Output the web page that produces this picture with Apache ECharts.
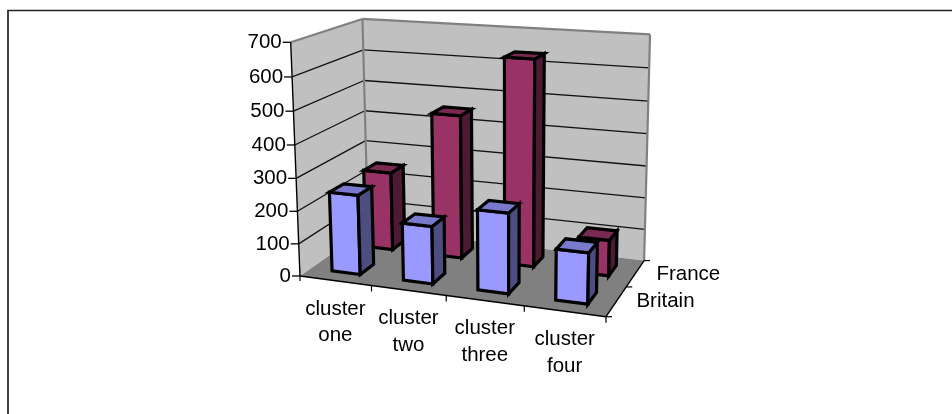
<!DOCTYPE html>
<html><head><meta charset="utf-8">
<style>html,body{margin:0;padding:0;background:#fff}#c{width:952px;height:414px}</style>
<script src="https://cdn.jsdelivr.net/npm/echarts@6/dist/echarts.min.js"></script>
</head><body><div id="c"></div>
<script>
const categories = ['cluster\none','cluster\ntwo','cluster\nthree','cluster\nfour'];
const seriesNames = ['Britain','France'];
const britain = [245,175,240,150];
const france = [250,450,637,110];
const valueTicks = [0,100,200,300,400,500,600,700];
const VMAX = 700;

// projective frame of the 3D box: origin, end of x, end of y(height), end of z(depth) + weights
const O=[300,276], X=[606,316.7], Y=[290.7,42.3], Z=[368,228.5];
const wx=.915, wy=.957, wz=1.12;
// hidden cartesian grid used as the unit scale
const G={left:100,top:50,width:700,height:300};
const chart = echarts.init(document.getElementById('c'),null,{renderer:'canvas'});

function unit(api,cat,val){ const p=api.coord([cat,val]); return [(p[0]-G.left)/G.width,(G.top+G.height-p[1])/G.height]; }
function proj(x,y,z){
  const d=1+x*(wx-1)+y*(wy-1)+z*(wz-1);
  return [0,1].map(i=>(O[i]+x*(wx*X[i]-O[i])+y*(wy*Y[i]-O[i])+z*(wz*Z[i]-O[i]))/d);
}
const poly=(pts,fill,stroke,lw)=>({type:'polygon',shape:{points:pts},style:{fill,stroke:stroke||'none',lineWidth:lw||0,lineJoin:'miter'}});
const line=(a,b,stroke,lw)=>({type:'line',shape:{x1:a[0],y1:a[1],x2:b[0],y2:b[1]},style:{stroke,lineWidth:lw}});
const txt=(p,t,align,vAlign,fs,lh)=>({type:'text',x:p[0],y:p[1],style:{text:t,font:(fs||20.5)+'px "Liberation Sans",Arial,sans-serif',fill:'#000',align,verticalAlign:vAlign,lineHeight:lh||26.5}});

const BW=.1, BD=.2;
function barRender(rowIdx,colors){
  return function(params,api){
    const c=api.value(0), v=api.value(1);
    const cx=unit(api,c,0)[0];
    const x0=cx-BW/2,x1=cx+BW/2;
    const zc=(rowIdx+.5)/seriesNames.length, z0=zc-BD/2,z1=zc+BD/2;
    const h=unit(api,c,v)[1];
    const lw=3.2,k='#000';
    return {type:'group',children:[
      poly([proj(x0,h,z0),proj(x1,h,z0),proj(x1,0,z0),proj(x0,0,z0)],colors[0],k,lw),
      poly([proj(x1,h,z0),proj(x1,h,z1),proj(x1,0,z1),proj(x1,0,z0)],colors[2],k,lw),
      poly([proj(x0,h,z0),proj(x0,h,z1),proj(x1,h,z1),proj(x1,h,z0)],colors[1],k,lw)
    ]};
  };
}
function wallRender(params,api){
  const ch=[];
  const m=unit(api,0,VMAX)[1];
  ch.push(poly([proj(0,0,0),proj(0,m,0),proj(0,m,1),proj(0,0,1)],'#c0c0c0'));
  ch.push(poly([proj(0,0,1),proj(0,m,1),proj(1,m,1),proj(1,0,1)],'#c0c0c0'));
  ch.push(poly([proj(0,0,0),proj(1,0,0),proj(1,0,1),proj(0,0,1)],'#808080'));
  valueTicks.forEach(v=>{
    const y=unit(api,0,v)[1];
    if(v>0&&v<VMAX){
      ch.push(line(proj(0,y,0),proj(0,y,1),'#111',1.3));
      ch.push(line(proj(0,y,1),proj(1,y,1),'#111',1.3));
    }
    const a=proj(0,y,0);
    ch.push(line([a[0]-8,a[1]],a,'#000',1.3));
    ch.push(txt([a[0]-9,a[1]],String(v),'right','middle'));
  });
  ch.push(line(proj(0,m,0),proj(0,m,1),'#808080',2.2));
  ch.push(line(proj(0,m,1),proj(1,m,1),'#808080',2.2));
  ch.push(line(proj(1,m,1),proj(1,0,1),'#808080',2.2));
  ch.push(line(proj(0,0,1),proj(0,m,1),'#808080',2.2));
  ch.push(line(proj(0,0,0),proj(0,m,0),'#000',1.4));
  ch.push(line(proj(0,0,0),proj(1,0,0),'#000',1.4));
  ch.push(line(proj(1,0,0),proj(1,0,1),'#000',1.4));
  categories.forEach((c,i)=>{
    const x0=i/categories.length, p=proj(x0+1/categories.length,0,0);
    ch.push(line(p,[p[0],p[1]+6],'#000',1.2));
    const l=proj(x0+.5/categories.length,0,0);
    ch.push(txt([l[0],l[1]+15],c,'center','top'));
  });
  ch.push(line(proj(0,0,0),[O[0],O[1]+5],'#000',1.2));
  [0,.5,1].forEach(z=>{const p=proj(1,0,z); ch.push(line(p,[p[0]+6,p[1]],'#000',1.2));});
  seriesNames.forEach((s,i)=>{
    const p=proj(1,0,(i+.5)/seriesNames.length);
    ch.push(txt([p[0]+ (i?21:20),p[1]+ (i?1:0)],s,'left','middle'));
  });
  // chart frame: top and left edges only
  ch.push({type:'polyline',shape:{points:[[8,414],[8,10.5],[952,10.5]]},style:{fill:'none',stroke:'#222',lineWidth:1.7}});
  return {type:'group',children:ch};
}
chart.setOption({
  animation:false,
  grid:G,
  xAxis:{type:'category',data:categories,show:false,boundaryGap:true},
  yAxis:{type:'value',min:0,max:VMAX,interval:100,show:false},
  series:[
    {type:'custom',name:'walls',z:1,renderItem:wallRender,data:[[0,0]],silent:true,clip:false},
    {type:'custom',name:'France',z:2,renderItem:barRender(1,['#993366','#7a2952','#4d1a33']),data:france.map((v,i)=>[i,v]),clip:false},
    {type:'custom',name:'Britain',z:3,renderItem:barRender(0,['#9999ff','#7a7acc','#4d4d80']),data:britain.map((v,i)=>[i,v]),clip:false}
  ]
});
</script></body></html>
